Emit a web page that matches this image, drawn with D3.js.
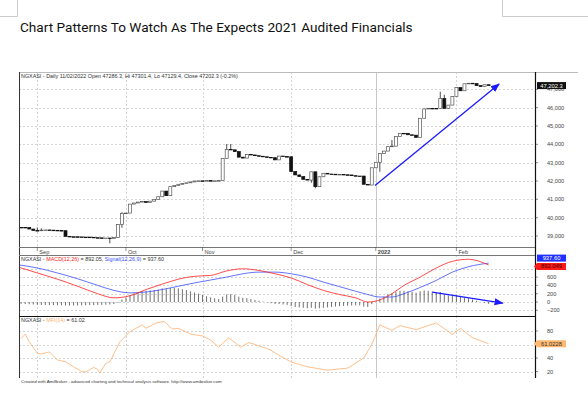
<!DOCTYPE html>
<html>
<head>
<meta charset="utf-8">
<script src="https://cdn.jsdelivr.net/npm/d3@7"></script>
<style>
body { margin: 0; background: #fff; }
text { font-family: "Liberation Sans", Arial, sans-serif; }
</style>
</head>
<body>
<div id="chart"></div>
<script>
// daily closes, 25 Aug 2021 .. 11 Feb 2022 (bar index 0..117)
var closes = [
  39470, 39470, 39460, 39380, 39300, 39290, 39320, 39330, 39320, 39310,
  39300, 39290, 38980, 38960, 38960, 38950, 38940, 38940, 38930, 38910,
  38900, 38880, 38890, 38860, 38920, 39630, 40230, 40250, 40740, 40800,
  40850, 40880, 40830, 40900, 41000, 41140, 41450, 41200, 41690, 41760,
  41820, 41860, 41900, 41950, 42000, 42010, 42010, 42020, 42000, 42010,
  42020, 43235, 43725, 43700, 43600, 43300, 43250, 43450, 43420, 43380,
  43350, 43320, 43290, 43270, 43150, 43360, 43330, 43320, 42510, 42330,
  42240, 42090, 42050, 42500, 41690, 42230, 42420, 42380, 42370, 42350,
  42360, 42340, 42330, 42290, 42270, 42270, 41820, 41780, 42720, 43020,
  43500, 43630, 43870, 43900, 44420, 44600, 44600, 44520, 44500, 44380,
  45420, 45930, 45960, 45960, 45960, 46500, 45960, 46140, 46600, 47090,
  46920, 47300, 47330, 47310, 47200, 47150, 47250, 47202.3
];
// extra wick extremes [bar, price]
var wickHighs = [[5, 39470], [6, 39420], [26, 40300], [52, 44016], [53, 44016], [93, 44235], [105, 46870], [106, 46700]];
var wickLows = [[23, 38600], [74, 41600], [73, 41900], [90, 42500], [26, 39450]];

var monthTicks = [
  { i: 5, label: "Sep" }, { i: 27, label: "Oct" }, { i: 46, label: "Nov" },
  { i: 68, label: "Dec" }, { i: 89, label: "2022", year: true }, { i: 109, label: "Feb" }
];
var priceTicks = [39000, 40000, 41000, 42000, 43000, 44000, 45000, 46000, 47000];
var macdTicks = [-200, 0, 200, 400, 600, 800];
var macdLabels = [-200, 0, 200, 400, 600];
var mfiTicks = [20, 40, 60, 80];
var mfiLabels = [20, 40, 80];

// MACD(12,26) and Signal(12,26,9) read at sample bars
var macdIdx = [0, 5, 10, 15, 20, 24, 28, 32, 36, 40, 44, 48, 52, 56, 60, 64, 68, 72, 76, 80, 84, 87, 90, 93, 96, 100, 104, 108, 112, 117];
var macdVal = [850, 700, 550, 380, 200, 100, 150, 300, 430, 550, 620, 640, 750, 800, 760, 680, 580, 420, 280, 180, 100, 0, 50, 200, 400, 600, 820, 980, 1030, 892.05];
var signalVal = [900, 820, 700, 560, 400, 280, 220, 240, 300, 380, 460, 530, 600, 680, 720, 720, 680, 600, 480, 370, 260, 180, 120, 120, 200, 350, 520, 720, 850, 937.6];
// MACD histogram, one value per bar
var histVal = [
  -40, -45, -50, -55, -60, -65, -70, -70, -75, -75,
  -80, -80, -85, -85, -85, -85, -80, -80, -75, -75,
  -70, -70, -65, -60, -50, -20, 60, 110, 170, 210,
  240, 260, 270, 280, 290, 300, 330, 320, 340, 340,
  330, 310, 290, 260, 230, 200, 170, 140, 110, 90,
  70, 130, 180, 190, 170, 130, 100, 90, 70, 50,
  30, 10, -10, -30, -50, -50, -60, -70, -100, -120,
  -130, -140, -150, -140, -160, -150, -140, -130, -120, -110,
  -100, -95, -90, -85, -80, -80, -110, -120, -50, 10,
  80, 130, 180, 210, 250, 270, 270, 260, 245, 225,
  260, 280, 270, 250, 230, 240, 180, 160, 160, 170,
  120, 110, 90, 60, 30, 0, -20, -45.6
];

// MFI(14) read at sample bars
var mfiIdx = [1, 2, 3, 5, 6, 8, 10, 12, 14, 16, 17, 19, 20, 20.5, 22, 23, 25.5, 28, 31, 32, 34.5, 36.5, 38.5, 40, 43, 46, 48, 50, 52.5, 55.5, 57.5, 60, 62.5, 65, 68, 72, 77, 82, 86, 88, 90, 93, 95, 99, 104, 108, 110, 113, 117];
var mfiVal = [69, 75.5, 64, 47, 46, 49, 37, 34.5, 27, 20, 19.3, 26, 23, 18, 32, 34.5, 64, 79, 89, 84, 92, 94, 83, 84, 75.5, 72.6, 66.7, 56, 70, 56, 63, 58, 53, 44, 34, 27, 22, 25, 40, 60, 89, 81, 88, 82, 92, 75, 84, 70, 61.02];

var W = 588, H = 393;
var L = 19, R = 535;
var svg = d3.select("#chart").append("svg").attr("width", W).attr("height", H);
svg.append("rect").attr("width", W).attr("height", H).attr("fill", "#fff");

svg.append("text").attr("x", 20).attr("y", 32)
  .style("font-family", "Roboto, 'Noto Sans', sans-serif").style("font-size", "13.6px").attr("fill", "#111")
  .text("Chart Patterns To Watch As The Expects 2021 Audited Financials");

// corner marks of the page
svg.append("path").attr("d", "M0,16.5H17.5V0M588,16.5H502.5V0").attr("fill", "none").attr("stroke", "#ccc");

var x = d3.scaleLinear().domain([5, 109]).range([37.3, 456.4]);
var yP = d3.scaleLinear().domain([39000, 47000]).range([236, 89.3]);
var yM = d3.scaleLinear().domain([-200, 600]).range([310.3, 277.1]);
var yF = d3.scaleLinear().domain([20, 80]).range([371.5, 331]);

var panels = [
  { top: 72, bottom: 247, y: yP, ticks: priceTicks, labels: priceTicks, fmt: d3.format(",") },
  { top: 255, bottom: 316, y: yM, ticks: macdTicks, labels: macdLabels, fmt: d3.format("d") },
  { top: 316, bottom: 378, y: yF, ticks: mfiTicks, labels: mfiLabels, fmt: d3.format("d") }
];

panels.forEach(function(p, k) {
  var clip = "clip" + k;
  svg.append("clipPath").attr("id", clip).append("rect")
    .attr("x", L).attr("y", p.top).attr("width", R - L).attr("height", p.bottom - p.top);
  p.g = svg.append("g").attr("clip-path", "url(#" + clip + ")");
  p.g.selectAll("line.h").data(p.ticks).enter().append("line")
    .attr("x1", L).attr("x2", R).attr("y1", d => Math.round(p.y(d)) + 0.5).attr("y2", d => Math.round(p.y(d)) + 0.5)
    .attr("stroke", "#d4d4d4").attr("stroke-dasharray", "2,2");
  p.g.selectAll("line.v").data(monthTicks).enter().append("line")
    .attr("x1", d => Math.round(x(d.i)) + 0.5).attr("x2", d => Math.round(x(d.i)) + 0.5)
    .attr("y1", p.top).attr("y2", p.bottom)
    .attr("stroke", d => d.year ? "#c8c8c8" : "#d4d4d4").attr("stroke-dasharray", d => d.year ? null : "2,2");
  svg.selectAll(null).data(p.labels).enter().append("text")
    .attr("x", 547).attr("y", d => p.y(d) + 2).style("font-size", "5.6px").attr("fill", "#444")
    .text(d => p.fmt(d));
  svg.selectAll(null).data(p.ticks).enter().append("line")
    .attr("x1", R).attr("x2", R + 3).attr("y1", d => p.y(d)).attr("y2", d => p.y(d)).attr("stroke", "#444").attr("stroke-width", 0.6);
});

// candles
var pg = panels[0].g;
var bars = closes.map(function(c, i) {
  var o = i > 0 ? closes[i - 1] : c;
  return { i: i, o: o, c: c, h: Math.max(o, c), l: Math.min(o, c) };
});
wickHighs.forEach(d => bars[d[0]].h = Math.max(bars[d[0]].h, d[1]));
wickLows.forEach(d => bars[d[0]].l = Math.min(bars[d[0]].l, d[1]));
pg.selectAll("line.wick").data(bars).enter().append("line")
  .attr("x1", d => x(d.i)).attr("x2", d => x(d.i))
  .attr("y1", d => yP(d.h)).attr("y2", d => yP(d.l)).attr("stroke", "#222").attr("stroke-width", 0.8);
pg.selectAll("rect.body").data(bars).enter().append("rect")
  .attr("x", d => x(d.i) - 1.5).attr("width", 3)
  .attr("y", d => yP(Math.max(d.o, d.c)))
  .attr("height", d => Math.max(0.6, yP(Math.min(d.o, d.c)) - yP(Math.max(d.o, d.c))))
  .attr("fill", d => d.c > d.o ? "#fff" : "#111")
  .attr("stroke", d => d.c > d.o ? "#555" : "#111").attr("stroke-width", 0.7);

// trend arrows
var defs = svg.append("defs");
defs.append("marker").attr("id", "ah").attr("viewBox", "0 0 10 10").attr("refX", 9).attr("refY", 5)
  .attr("markerWidth", 7).attr("markerHeight", 7).attr("orient", "auto")
  .append("path").attr("d", "M0,1L10,5L0,9Z").attr("fill", "#1a1aff");
pg.append("line").attr("x1", x(88.8)).attr("y1", yP(41750)).attr("x2", x(119.6)).attr("y2", yP(47290))
  .attr("stroke", "#1a1aff").attr("stroke-width", 1.3).attr("marker-end", "url(#ah)");

// MACD panel
var mg = panels[1].g;
var macd = macdIdx.map((i, k) => ({ i: i, m: macdVal[k], s: signalVal[k] }));
mg.selectAll("line.hist").data(histVal).enter().append("line")
  .attr("x1", (d, i) => x(i)).attr("x2", (d, i) => x(i))
  .attr("y1", yM(0)).attr("y2", d => yM(d)).attr("stroke", "#333").attr("stroke-width", 0.7);
mg.append("path").datum(macd).attr("fill", "none").attr("stroke", "#3a50ff").attr("stroke-width", 0.8)
  .attr("d", d3.line().x(d => x(d.i)).y(d => yM(d.s)).curve(d3.curveMonotoneX));
mg.append("path").datum(macd).attr("fill", "none").attr("stroke", "#ff2020").attr("stroke-width", 0.8)
  .attr("d", d3.line().x(d => x(d.i)).y(d => yM(d.m)).curve(d3.curveMonotoneX));
mg.append("line").attr("x1", x(103)).attr("y1", yM(240)).attr("x2", x(120.5)).attr("y2", yM(-25))
  .attr("stroke", "#1a1aff").attr("stroke-width", 1.3).attr("marker-end", "url(#ah)");

// MFI panel
var fg = panels[2].g;
var mfi = mfiIdx.map((i, k) => ({ i: i, v: mfiVal[k] }));
fg.append("path").datum(mfi).attr("fill", "none").attr("stroke", "#ffb070").attr("stroke-width", 0.8)
  .attr("d", d3.line().x(d => x(d.i)).y(d => yF(d.v)));

// frame lines
svg.append("line").attr("x1", L).attr("x2", 578).attr("y1", 72.5).attr("y2", 72.5).attr("stroke", "#bbb");
svg.append("line").attr("x1", L + 0.5).attr("x2", L + 0.5).attr("y1", 72).attr("y2", 378).attr("stroke", "#333");
svg.append("line").attr("x1", R + 0.5).attr("x2", R + 0.5).attr("y1", 72).attr("y2", 378).attr("stroke", "#111").attr("stroke-width", 1.2);
[247, 255].forEach(v => svg.append("line").attr("x1", L).attr("x2", R).attr("y1", v + 0.5).attr("y2", v + 0.5).attr("stroke", "#777"));
svg.append("line").attr("x1", L).attr("x2", R).attr("y1", 316.5).attr("y2", 316.5).attr("stroke", "#111").attr("stroke-width", 1.2);

// month labels
svg.selectAll(null).data(monthTicks).enter().append("text")
  .attr("x", d => x(d.i) + 2).attr("y", 253.5).style("font-size", "5.6px").attr("fill", "#444")
  .style("font-weight", d => d.year ? "bold" : null).text(d => d.label);
svg.selectAll(null).data(monthTicks).enter().append("line")
  .attr("x1", d => x(d.i)).attr("x2", d => x(d.i)).attr("y1", 247).attr("y2", 251).attr("stroke", "#444").attr("stroke-width", 0.6);

// panel captions
function caption(yy, parts) {
  var t = svg.append("text").attr("x", 21).attr("y", yy).style("font-size", "5.4px");
  parts.forEach(p => t.append("tspan").attr("fill", p[1]).text(p[0]));
}
caption(78, [["NGXASI - Daily 11/02/2022 Open 47286.3, Hi 47301.4, Lo 47129.4, Close 47202.3 (-0.2%)", "#333"]]);
caption(261, [["NGXASI - ", "#333"], ["MACD(12,26)", "#ff2020"], [" = 892.05, ", "#333"], ["Signal(12,26,9)", "#3a50ff"], [" = 937.60", "#333"]]);
caption(322, [["NGXASI - ", "#333"], ["MFI(14)", "#ffb070"], [" = 61.02", "#333"]]);
svg.append("text").attr("x", 21).attr("y", 383).style("font-size", "4.4px").attr("fill", "#333")
  .text("Created with AmiBroker - advanced charting and technical analysis software. http://www.amibroker.com");

// value tags on the right axis
function tag(cy, label, bg, fg, pointed) {
  var x0 = 537, w = 29, h = 7;
  if (pointed) {
    svg.append("path").attr("d", "M" + (x0 - 3) + "," + cy + "L" + x0 + "," + (cy - h / 2) + "H" + (x0 + w) + "V" + (cy + h / 2) + "H" + x0 + "Z").attr("fill", bg);
  } else {
    svg.append("rect").attr("x", x0).attr("y", cy - h / 2).attr("width", w).attr("height", h).attr("fill", bg);
  }
  svg.append("text").attr("x", x0 + w / 2).attr("y", cy + 2).attr("text-anchor", "middle")
    .style("font-size", "5.8px").attr("fill", fg).text(label);
}
tag(yP(47202.3), "47,202.3", "#111", "#fff", false);
tag(yM(937.6) - 5, "937.60", "#1f2fff", "#fff", false);
tag(yM(892.049) + 1.5, "892.049", "#ff1a1a", "#400", true);
tag(yF(61.0228), "61.0228", "#ffb870", "#333", true);
</script>
</body>
</html>
